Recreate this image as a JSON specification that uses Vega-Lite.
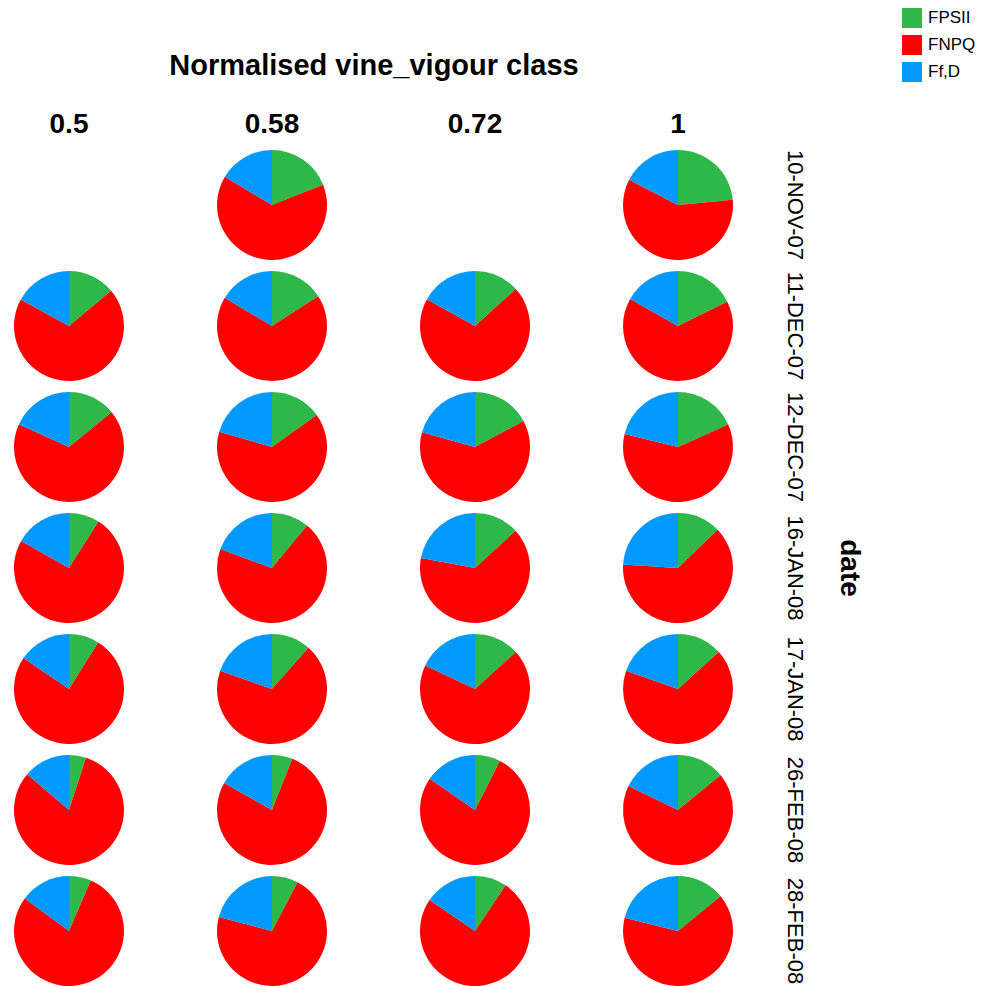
{
  "$schema": "https://vega.github.io/schema/vega-lite/v6.json",
  "background": "white",
  "padding": {"left": 14, "top": 8, "right": 5, "bottom": 0},
  "config": {
    "font": "Liberation Sans",
    "view": {"stroke": null}
  },
  "data": {
    "values": [
      {"date": "10-NOV-07", "vigour": 0.5, "component": "FPSII", "value": 0},
      {"date": "10-NOV-07", "vigour": 0.58, "component": "FPSII", "value": 19},
      {"date": "10-NOV-07", "vigour": 0.58, "component": "FNPQ", "value": 64.6},
      {"date": "10-NOV-07", "vigour": 0.58, "component": "Ff,D", "value": 16.4},
      {"date": "10-NOV-07", "vigour": 0.72, "component": "FPSII", "value": 0},
      {"date": "10-NOV-07", "vigour": 1, "component": "FPSII", "value": 23.5},
      {"date": "10-NOV-07", "vigour": 1, "component": "FNPQ", "value": 59.1},
      {"date": "10-NOV-07", "vigour": 1, "component": "Ff,D", "value": 17.4},

      {"date": "11-DEC-07", "vigour": 0.5, "component": "FPSII", "value": 13.9},
      {"date": "11-DEC-07", "vigour": 0.5, "component": "FNPQ", "value": 69.1},
      {"date": "11-DEC-07", "vigour": 0.5, "component": "Ff,D", "value": 17},
      {"date": "11-DEC-07", "vigour": 0.58, "component": "FPSII", "value": 15.9},
      {"date": "11-DEC-07", "vigour": 0.58, "component": "FNPQ", "value": 67.7},
      {"date": "11-DEC-07", "vigour": 0.58, "component": "Ff,D", "value": 16.4},
      {"date": "11-DEC-07", "vigour": 0.72, "component": "FPSII", "value": 13.3},
      {"date": "11-DEC-07", "vigour": 0.72, "component": "FNPQ", "value": 69.8},
      {"date": "11-DEC-07", "vigour": 0.72, "component": "Ff,D", "value": 16.9},
      {"date": "11-DEC-07", "vigour": 1, "component": "FPSII", "value": 17.7},
      {"date": "11-DEC-07", "vigour": 1, "component": "FNPQ", "value": 65.5},
      {"date": "11-DEC-07", "vigour": 1, "component": "Ff,D", "value": 16.8},

      {"date": "12-DEC-07", "vigour": 0.5, "component": "FPSII", "value": 14.1},
      {"date": "12-DEC-07", "vigour": 0.5, "component": "FNPQ", "value": 67.7},
      {"date": "12-DEC-07", "vigour": 0.5, "component": "Ff,D", "value": 18.2},
      {"date": "12-DEC-07", "vigour": 0.58, "component": "FPSII", "value": 15.1},
      {"date": "12-DEC-07", "vigour": 0.58, "component": "FNPQ", "value": 64.4},
      {"date": "12-DEC-07", "vigour": 0.58, "component": "Ff,D", "value": 20.5},
      {"date": "12-DEC-07", "vigour": 0.72, "component": "FPSII", "value": 17.2},
      {"date": "12-DEC-07", "vigour": 0.72, "component": "FNPQ", "value": 62.1},
      {"date": "12-DEC-07", "vigour": 0.72, "component": "Ff,D", "value": 20.7},
      {"date": "12-DEC-07", "vigour": 1, "component": "FPSII", "value": 18.3},
      {"date": "12-DEC-07", "vigour": 1, "component": "FNPQ", "value": 60.5},
      {"date": "12-DEC-07", "vigour": 1, "component": "Ff,D", "value": 21.2},

      {"date": "16-JAN-08", "vigour": 0.5, "component": "FPSII", "value": 9},
      {"date": "16-JAN-08", "vigour": 0.5, "component": "FNPQ", "value": 74.2},
      {"date": "16-JAN-08", "vigour": 0.5, "component": "Ff,D", "value": 16.8},
      {"date": "16-JAN-08", "vigour": 0.58, "component": "FPSII", "value": 11},
      {"date": "16-JAN-08", "vigour": 0.58, "component": "FNPQ", "value": 69.6},
      {"date": "16-JAN-08", "vigour": 0.58, "component": "Ff,D", "value": 19.4},
      {"date": "16-JAN-08", "vigour": 0.72, "component": "FPSII", "value": 13.2},
      {"date": "16-JAN-08", "vigour": 0.72, "component": "FNPQ", "value": 64.7},
      {"date": "16-JAN-08", "vigour": 0.72, "component": "Ff,D", "value": 22.1},
      {"date": "16-JAN-08", "vigour": 1, "component": "FPSII", "value": 12.8},
      {"date": "16-JAN-08", "vigour": 1, "component": "FNPQ", "value": 63.2},
      {"date": "16-JAN-08", "vigour": 1, "component": "Ff,D", "value": 24},

      {"date": "17-JAN-08", "vigour": 0.5, "component": "FPSII", "value": 8.9},
      {"date": "17-JAN-08", "vigour": 0.5, "component": "FNPQ", "value": 75.6},
      {"date": "17-JAN-08", "vigour": 0.5, "component": "Ff,D", "value": 15.5},
      {"date": "17-JAN-08", "vigour": 0.58, "component": "FPSII", "value": 11.5},
      {"date": "17-JAN-08", "vigour": 0.58, "component": "FNPQ", "value": 68.9},
      {"date": "17-JAN-08", "vigour": 0.58, "component": "Ff,D", "value": 19.6},
      {"date": "17-JAN-08", "vigour": 0.72, "component": "FPSII", "value": 13.3},
      {"date": "17-JAN-08", "vigour": 0.72, "component": "FNPQ", "value": 68.7},
      {"date": "17-JAN-08", "vigour": 0.72, "component": "Ff,D", "value": 18},
      {"date": "17-JAN-08", "vigour": 1, "component": "FPSII", "value": 13.3},
      {"date": "17-JAN-08", "vigour": 1, "component": "FNPQ", "value": 67.1},
      {"date": "17-JAN-08", "vigour": 1, "component": "Ff,D", "value": 19.6},

      {"date": "26-FEB-08", "vigour": 0.5, "component": "FPSII", "value": 5},
      {"date": "26-FEB-08", "vigour": 0.5, "component": "FNPQ", "value": 81.3},
      {"date": "26-FEB-08", "vigour": 0.5, "component": "Ff,D", "value": 13.7},
      {"date": "26-FEB-08", "vigour": 0.58, "component": "FPSII", "value": 6},
      {"date": "26-FEB-08", "vigour": 0.58, "component": "FNPQ", "value": 77.2},
      {"date": "26-FEB-08", "vigour": 0.58, "component": "Ff,D", "value": 16.8},
      {"date": "26-FEB-08", "vigour": 0.72, "component": "FPSII", "value": 7.5},
      {"date": "26-FEB-08", "vigour": 0.72, "component": "FNPQ", "value": 77.1},
      {"date": "26-FEB-08", "vigour": 0.72, "component": "Ff,D", "value": 15.4},
      {"date": "26-FEB-08", "vigour": 1, "component": "FPSII", "value": 14.1},
      {"date": "26-FEB-08", "vigour": 1, "component": "FNPQ", "value": 68.1},
      {"date": "26-FEB-08", "vigour": 1, "component": "Ff,D", "value": 17.8},

      {"date": "28-FEB-08", "vigour": 0.5, "component": "FPSII", "value": 6.5},
      {"date": "28-FEB-08", "vigour": 0.5, "component": "FNPQ", "value": 78.6},
      {"date": "28-FEB-08", "vigour": 0.5, "component": "Ff,D", "value": 14.9},
      {"date": "28-FEB-08", "vigour": 0.58, "component": "FPSII", "value": 7.7},
      {"date": "28-FEB-08", "vigour": 0.58, "component": "FNPQ", "value": 71.4},
      {"date": "28-FEB-08", "vigour": 0.58, "component": "Ff,D", "value": 20.9},
      {"date": "28-FEB-08", "vigour": 0.72, "component": "FPSII", "value": 9.4},
      {"date": "28-FEB-08", "vigour": 0.72, "component": "FNPQ", "value": 75.1},
      {"date": "28-FEB-08", "vigour": 0.72, "component": "Ff,D", "value": 15.5},
      {"date": "28-FEB-08", "vigour": 1, "component": "FPSII", "value": 14.1},
      {"date": "28-FEB-08", "vigour": 1, "component": "FNPQ", "value": 64.8},
      {"date": "28-FEB-08", "vigour": 1, "component": "Ff,D", "value": 21.1}
    ]
  },
  "transform": [
    {"calculate": "indexof(['FPSII','FNPQ','Ff,D'], datum.component)", "as": "slice_order"}
  ],
  "facet": {
    "column": {
      "field": "vigour",
      "type": "ordinal",
      "sort": "ascending",
      "title": "Normalised vine_vigour class",
      "header": {
        "titleFontSize": 29,
        "titleFontWeight": "bold",
        "titleColor": "black",
        "titlePadding": 20,
        "labelFontSize": 28,
        "labelFontWeight": "bold",
        "labelColor": "black",
        "labelPadding": 11
      }
    },
    "row": {
      "field": "date",
      "type": "ordinal",
      "sort": ["10-NOV-07", "11-DEC-07", "12-DEC-07", "16-JAN-08", "17-JAN-08", "26-FEB-08", "28-FEB-08"],
      "title": "date",
      "header": {
        "labelOrient": "right",
        "labelAngle": 90,
        "labelFontSize": 22,
        "labelColor": "black",
        "labelPadding": 50,
        "titleOrient": "right",
        "titleAngle": 90,
        "titleFontSize": 28,
        "titleFontWeight": "bold",
        "titleColor": "black",
        "titlePadding": 19
      }
    }
  },
  "spacing": {"row": 11, "column": 93},
  "spec": {
    "width": 110,
    "height": 110,
    "mark": {"type": "arc"},
    "encoding": {
      "theta": {
        "field": "value",
        "type": "quantitative",
        "stack": true,
        "scale": {"domain": [0, 100]}
      },
      "order": {"field": "slice_order", "type": "quantitative"},
      "color": {
        "field": "component",
        "type": "nominal",
        "title": null,
        "scale": {
          "domain": ["FPSII", "FNPQ", "Ff,D"],
          "range": ["#2eb84a", "#ff0000", "#0099ff"]
        },
        "legend": {
          "orient": "none",
          "legendX": 888,
          "legendY": -142,
          "symbolType": "square",
          "symbolSize": 400,
          "symbolStrokeWidth": 0,
          "labelFontSize": 17,
          "labelColor": "black",
          "labelOffset": 6,
          "rowPadding": 7
        }
      }
    }
  }
}
